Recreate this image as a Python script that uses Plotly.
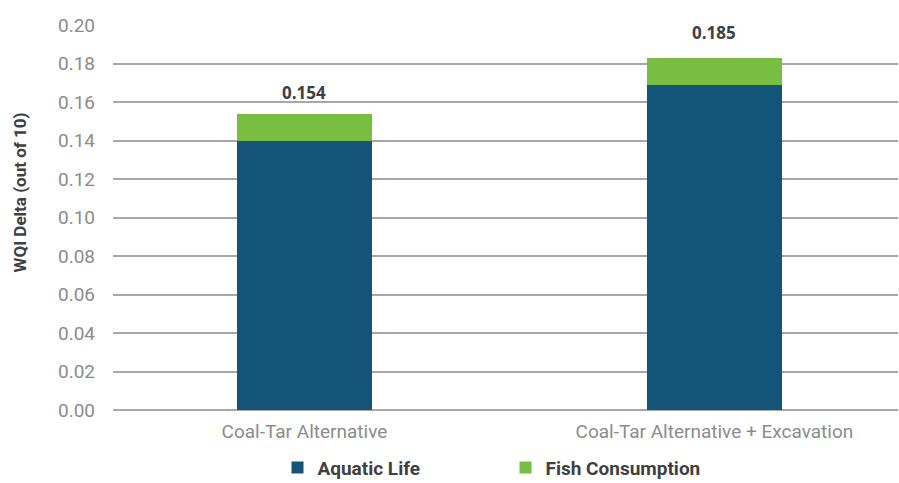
import plotly.graph_objects as go

categories = ["Coal-Tar Alternative", "Coal-Tar Alternative + Excavation"]
aquatic_life = [0.140, 0.169]
fish_consumption = [0.014, 0.014]
total_labels = ["0.154", "0.185"]
total_values = [0.154, 0.185]
y_ticks = [0.00, 0.02, 0.04, 0.06, 0.08, 0.10, 0.12, 0.14, 0.16, 0.18, 0.20]

BLUE = "#135478"
GREEN = "#7abd43"
GRID = "#a8a8a8"
TICK = "#8c8c8c"
DARK = "#404040"

fig = go.Figure()
fig.add_trace(go.Bar(x=categories, y=aquatic_life, name="<b>Aquatic Life</b>",
                     marker=dict(color=BLUE, line=dict(width=0)), width=0.33))
fig.add_trace(go.Bar(x=categories, y=fish_consumption, name="<b>Fish Consumption</b>",
                     marker=dict(color=GREEN, line=dict(width=0)), width=0.33))

for c, v, t in zip(categories, total_values, total_labels):
    fig.add_annotation(x=c, y=v, text="<b>" + t + "</b>", showarrow=False,
                       yshift=21, font=dict(family="Open Sans", size=17, color=DARK))

fig.add_annotation(xref="paper", yref="paper", x=-0.118, y=0.566,
                   text="<b>WQI Delta (out of 10)</b>", textangle=-90, showarrow=False,
                   xanchor="center", yanchor="middle",
                   font=dict(family="Roboto", size=17, color=DARK))

fig.update_layout(
    width=899, height=483,
    margin=dict(l=113, r=1, t=25, b=73, autoexpand=False),
    paper_bgcolor="white", plot_bgcolor="white",
    barmode="stack",
    showlegend=True,
    legend=dict(orientation="h", x=0.5, xanchor="center",
                yref="container", y=0.032, yanchor="middle",
                entrywidth=183, entrywidthmode="pixels",
                font=dict(family="Roboto", size=19, color=DARK),
                traceorder="normal", itemclick=False),
    xaxis=dict(range=[-0.467, 1.448], showgrid=False, zeroline=False, showline=False,
               ticks="", ticklabelstandoff=8,
               tickfont=dict(family="Roboto", size=19, color=TICK)),
    yaxis=dict(range=[0, 0.2], tickvals=y_ticks, tickformat=".2f",
               showgrid=True, gridcolor=GRID, gridwidth=1.5,
               zeroline=True, zerolinecolor=GRID, zerolinewidth=1.5,
               showline=False, ticks="", ticklabelstandoff=17,
               tickfont=dict(family="Roboto", size=19, color=TICK)),
)

fig.write_html("out.html")
